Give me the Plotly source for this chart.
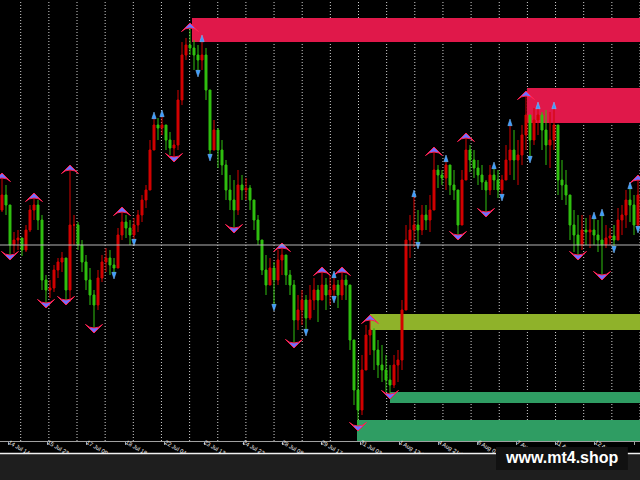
import plotly.graph_objects as go

# ---- price bars (H1 resampled), price units ----
highs = [262, 255, 235, 208, 210, 202, 215, 235, 242, 240,
         225, 165, 160, 175, 182, 188, 182, 270, 225, 218,
         200, 185, 172, 150, 170, 185, 192, 190, 182, 212,
         228, 225, 220, 222, 230, 245, 255, 300, 325, 322,
         327, 315, 308, 300, 350, 398, 402, 412, 400, 395,
         402, 392, 350, 320, 312, 300, 280, 265, 260, 270,
         265, 262, 255, 240, 225, 200, 185, 182, 178, 190,
         192, 185, 170, 160, 145, 150, 145, 155, 162, 155,
         168, 162, 165, 166, 160, 168, 165, 155, 100, 80,
         85, 115, 120, 112, 100, 95, 85, 75, 85, 90,
         140, 215, 225, 247, 230, 235, 235, 245, 288, 275,
         270, 282, 275, 270, 250, 270, 302, 295, 290, 280,
         275, 260, 275, 275, 270, 265, 295, 318, 310, 300,
         315, 344, 325, 332, 335, 328, 330, 328, 335, 315,
         280, 270, 245, 230, 225, 225, 222, 225, 225, 220,
         228, 215, 212, 215, 232, 235, 250, 255, 245, 260]
lows = [228, 225, 185, 187, 190, 184, 188, 208, 220, 210,
        150, 137, 142, 148, 162, 168, 140, 138, 195, 190,
        168, 150, 135, 112, 130, 158, 168, 165, 164, 172,
        200, 202, 195, 197, 208, 218, 232, 250, 290, 300,
        305, 290, 285, 283, 290, 335, 380, 385, 370, 366,
        370, 340, 282, 290, 272, 265, 240, 230, 212, 225,
        240, 240, 230, 210, 195, 165, 145, 155, 132, 155,
        165, 155, 145, 97, 110, 115, 107, 120, 130, 118,
        140, 130, 135, 140, 132, 140, 140, 90, 35, 14,
        25, 70, 85, 70, 62, 58, 48, 46, 52, 58,
        70, 130, 182, 193, 194, 205, 210, 208, 230, 252,
        255, 250, 245, 240, 205, 215, 260, 268, 262, 255,
        250, 228, 245, 250, 242, 242, 260, 265, 260, 255,
        275, 290, 280, 295, 305, 290, 275, 272, 290, 245,
        240, 235, 200, 188, 185, 190, 195, 192, 195, 188,
        165, 192, 195, 190, 200, 205, 212, 218, 205, 210]
closes = [245, 235, 195, 200, 202, 190, 210, 230, 235, 220,
          160, 150, 152, 170, 178, 182, 150, 215, 215, 195,
          178, 160, 145, 135, 162, 178, 182, 175, 172, 205,
          218, 212, 205, 215, 225, 240, 250, 290, 315, 312,
          315, 300, 292, 295, 340, 385, 395, 392, 385, 380,
          385, 350, 290, 310, 290, 275, 250, 240, 230, 255,
          250, 252, 240, 220, 200, 170, 155, 172, 160, 180,
          185, 165, 155, 120, 130, 140, 122, 140, 150, 140,
          155, 145, 150, 155, 145, 160, 155, 100, 50, 30,
          70, 105, 110, 90, 75, 70, 60, 55, 75, 80,
          130, 200, 210, 215, 210, 225, 220, 230, 270, 265,
          262, 275, 255, 250, 215, 260, 290, 280, 272, 265,
          258, 250, 265, 260, 250, 260, 280, 290, 280, 285,
          305, 325, 300, 320, 325, 310, 295, 300, 315, 260,
          255, 245, 215, 205, 195, 210, 208, 210, 205, 200,
          195, 202, 204, 200, 220, 225, 240, 235, 215, 245]
first_open = 230
opens = [first_open] + closes[:-1]
bar_idx = list(range(len(closes)))

# ---- fractal / swing arrows (bar indices) ----
big_up_bars = [0, 8, 17, 30, 47, 70, 80, 85, 92, 108, 116, 131, 159]
big_down_bars = [2, 11, 16, 23, 43, 58, 73, 89, 97, 114, 121, 144, 150]
small_up_bars = [38, 40, 50, 83, 103, 111, 123, 127, 134, 138, 148, 150, 157]
small_down_bars = [28, 33, 49, 52, 68, 76, 83, 104, 125, 132, 153, 159]

# ---- supply / demand zones ----
zone_start = [47.5, 131.25, 92.0, 97.0, 88.75]
zone_top = [422, 352, 126, 48, 20]
zone_bottom = [398, 317, 110, 37, -1]
zone_colors = ["#e0184a", "#e0184a", "#8fb22a", "#2f9d63", "#2f9d63"]

bid_price = 195

# ---- time axis ----
tick_pos = [1.6, 11.35, 21.1, 30.9, 40.7, 50.5, 60.25, 70.0, 79.8, 89.6,
            99.35, 109.1, 118.9, 128.7, 138.4, 148.2, 158.0]
tick_text = ["14 Jul 14:00", "15 Jul 23:00", "17 Jul 09:00", "18 Jul 18:00",
             "22 Jul 04:00", "23 Jul 13:00", "24 Jul 22:00", "28 Jul 08:00",
             "29 Jul 17:00", "31 Jul 03:00", "1 Aug 12:00", "4 Aug 21:00",
             "6 Aug 07:00", "7 Aug 16:00", "11 Aug 02:00", "12 Aug 11:00",
             "13 Aug 20:00"]
grid_start = 4.675
grid_step = 7.0375
n_grid = 23

fig = go.Figure()

fig.add_trace(go.Candlestick(
    x=bar_idx, open=opens, high=highs, low=lows, close=closes,
    increasing=dict(line=dict(color="#d40000", width=1), fillcolor="#d40000"),
    decreasing=dict(line=dict(color="#30c010", width=1), fillcolor="#30c010"),
    whiskerwidth=0, hoverinfo="skip", showlegend=False,
))

fig.add_trace(go.Scatter(
    x=big_up_bars, y=[highs[i] + 5 for i in big_up_bars], mode="markers",
    marker=dict(symbol="arrow-wide", size=12, color="#7070ff",
                line=dict(color="#ff2050", width=1)),
    hoverinfo="skip", showlegend=False))
fig.add_trace(go.Scatter(
    x=big_down_bars, y=[lows[i] - 5 for i in big_down_bars], mode="markers",
    marker=dict(symbol="arrow-wide", angle=180, size=12, color="#7070ff",
                line=dict(color="#ff2050", width=1)),
    hoverinfo="skip", showlegend=False))
fig.add_trace(go.Scatter(
    x=small_up_bars, y=[highs[i] + 3 for i in small_up_bars], mode="markers",
    marker=dict(symbol="arrow", size=7, color="#3a9cff",
                line=dict(color="#80c0ff", width=0.5)),
    hoverinfo="skip", showlegend=False))
fig.add_trace(go.Scatter(
    x=small_down_bars, y=[lows[i] - 3 for i in small_down_bars], mode="markers",
    marker=dict(symbol="arrow", angle=180, size=7, color="#3a9cff",
                line=dict(color="#80c0ff", width=0.5)),
    hoverinfo="skip", showlegend=False))

shapes = []
for x0, top, bot, col in zip(zone_start, zone_top, zone_bottom, zone_colors):
    shapes.append(dict(type="rect", xref="x", yref="y", x0=x0, x1=170,
                       y0=bot, y1=top, fillcolor=col, line=dict(width=0),
                       layer="below"))
# vertical dotted period separators (time grid)
for k in range(n_grid):
    gx = grid_start + k * grid_step
    shapes.append(dict(type="line", xref="x", yref="paper", x0=gx, x1=gx,
                       y0=0, y1=1,
                       line=dict(color="#d0d0d0", width=1, dash="1px,2px"),
                       layer="below"))
shapes.append(dict(type="line", xref="paper", yref="y", x0=0, x1=1,
                   y0=bid_price, y1=bid_price,
                   line=dict(color="#b4b4b4", width=1), layer="above"))
# bottom status strip
shapes.append(dict(type="rect", xref="paper", yref="paper", x0=0, x1=1,
                   y0=-0.095, y1=-0.0295, fillcolor="#1e1e1e",
                   line=dict(width=0), layer="above"))
shapes.append(dict(type="line", xref="paper", yref="paper", x0=0, x1=1,
                   y0=-0.0283, y1=-0.0283, line=dict(color="#f0f0f0", width=1.5),
                   layer="above"))
shapes.append(dict(type="rect", xref="paper", yref="paper", x0=0.775, x1=0.981,
                   y0=-0.0658, y1=-0.0136, fillcolor="#111111",
                   line=dict(width=0), layer="above"))

fig.update_layout(
    width=640, height=480,
    margin=dict(l=0, r=0, t=0, b=39, autoexpand=False),
    paper_bgcolor="#000000", plot_bgcolor="#000000",
    shapes=shapes,
    showlegend=False,
    annotations=[dict(text="<b>www.mt4.shop</b>", xref="paper", yref="paper",
                      x=0.878, y=-0.0385, xanchor="center", yanchor="middle",
                      showarrow=False,
                      font=dict(family="Liberation Sans, Arial", size=16,
                                color="#ffffff"))],
    xaxis=dict(
        range=[-0.5, 159.5], rangeslider=dict(visible=False), automargin=False,
        showgrid=False, zeroline=False,
        tickmode="array", tickvals=tick_pos, ticktext=tick_text,
        ticks="outside", ticklen=3, tickcolor="#a0a0a0", tickwidth=1,
        ticklabelposition="outside right", ticklabelstandoff=-5,
        tickfont=dict(family="Liberation Sans", size=5.8, color="#f0f0f0"),
        showline=True, linecolor="#a0a0a0", linewidth=1,
    ),
    yaxis=dict(range=[-1, 440], visible=False, showgrid=False, zeroline=False,
               automargin=False),
)

fig.write_html("out.html", config={"displayModeBar": False},
               post_script="document.body.style.margin='0';")
